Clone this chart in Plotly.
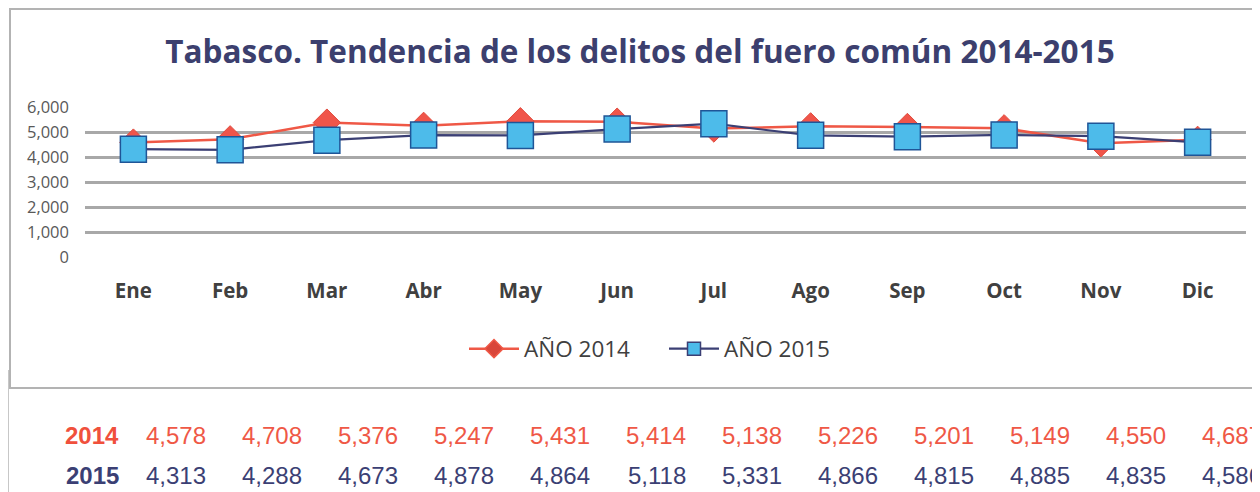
import plotly.graph_objects as go

months = ["Ene", "Feb", "Mar", "Abr", "May", "Jun", "Jul", "Ago", "Sep", "Oct", "Nov", "Dic"]
y2014 = [4578, 4708, 5376, 5247, 5431, 5414, 5138, 5226, 5201, 5149, 4550, 4687]
y2015 = [4313, 4288, 4673, 4878, 4864, 5118, 5331, 4866, 4815, 4885, 4835, 4586]
series_names = ["AÑO 2014", "AÑO 2015"]
row_labels = ["2014", "2015"]
title_text = "Tabasco. Tendencia de los delitos del fuero común 2014-2015"

RED = "#ef5846"
NAVY = "#3b3f74"
OFF = 8                      # page body margin in the browser
W, H = 1260 - OFF, 492 - OFF
# plot area in page pixels: x 85..1246, y 107..257
L, R, T, B = 85 - OFF, 1260 - 1246, 107 - OFF, 492 - 257
PW, PH = W - L - R, H - T - B


def px_x(px):
    return (px - OFF - L) / PW


def px_y(py):
    return (H - B - (py - OFF)) / PH


fig = go.Figure()
fig.add_trace(go.Scatter(
    x=months, y=y2014, name=series_names[0], mode="lines+markers", showlegend=False,
    line=dict(color=RED, width=2.5),
    marker=dict(symbol="diamond", size=21, color="#f0554a", line=dict(color="#e04a3c", width=1)),
))
fig.add_trace(go.Scatter(
    x=months, y=y2015, name=series_names[1], mode="lines+markers", showlegend=False,
    line=dict(color=NAVY, width=2.2),
    marker=dict(symbol="square", size=26, color="#4dbbea", line=dict(color="#1f5597", width=1.5)),
))
# legend entries (smaller symbols, as in the reference legend)
fig.add_trace(go.Scatter(
    x=[None], y=[None], name=series_names[0], mode="lines+markers",
    line=dict(color=RED, width=2.5),
    marker=dict(symbol="diamond", size=14, color="#d9463a", line=dict(color=RED, width=1.5)),
))
fig.add_trace(go.Scatter(
    x=[None], y=[None], name=series_names[1], mode="lines+markers",
    line=dict(color=NAVY, width=2.2),
    marker=dict(symbol="square", size=13, color="#4dbbea", line=dict(color=NAVY, width=1.5)),
))

fig.update_layout(
    width=W, height=H,
    margin=dict(l=L, r=R, t=T, b=B),
    paper_bgcolor="white", plot_bgcolor="white",
    title=dict(text=title_text, x=px_x(640) * PW / W + L / W, xanchor="center",
               y=1 - (52 - OFF) / H, yanchor="middle",
               font=dict(family="Open Sans", size=31.5, color="#3c3f6e", weight="bold")),
    showlegend=True,
    legend=dict(orientation="h", x=px_x(664), xanchor="center", y=px_y(349), yanchor="middle",
                font=dict(family="Open Sans", size=22.5, color="#404040"),
                itemwidth=50, entrywidth=135, traceorder="normal"),
    xaxis=dict(range=[-0.5, 11.5], showgrid=False, zeroline=False, showline=False, ticks="",
               tickfont=dict(family="Open Sans", size=20.5, color="#404040", weight="bold"),
               ticklabelstandoff=19),
    yaxis=dict(range=[0, 6000], dtick=1000, tickformat=",d", showgrid=True, gridcolor="#a8a8a8",
               gridwidth=2.5, zeroline=False, showline=False, ticks="",
               tickfont=dict(family="Open Sans", size=16.5, color="#595959"), ticklabelstandoff=15),
)

# chart border and left rule
fig.add_shape(type="rect", xref="paper", yref="paper",
              x0=px_x(10), x1=px_x(1275), y0=px_y(388), y1=px_y(9),
              line=dict(color="#b3b3b3", width=2), layer="below")
fig.add_shape(type="line", xref="paper", yref="paper",
              x0=px_x(7.5), x1=px_x(7.5), y0=px_y(370), y1=px_y(495),
              line=dict(color="#222222", width=1.5))

# data table below chart
rows = [(row_labels[0], y2014, RED, "#f0503c", 435), (row_labels[1], y2015, NAVY, NAVY, 475)]
for lab, vals, col, labcol, ypx in rows:
    fig.add_annotation(text=f"<b>{lab}</b>", xref="paper", yref="paper", x=px_x(121), y=px_y(ypx),
                       xanchor="right", yanchor="middle", showarrow=False,
                       font=dict(family="Liberation Sans", size=24, color=labcol))
    for i, v in enumerate(vals):
        fig.add_annotation(text=f"{v:,}", xref="paper", yref="paper", x=px_x(208 + 96 * i), y=px_y(ypx),
                           xanchor="right", yanchor="middle", showarrow=False,
                           font=dict(family="Liberation Sans", size=24, color=col))

fig.write_html("out.html")
